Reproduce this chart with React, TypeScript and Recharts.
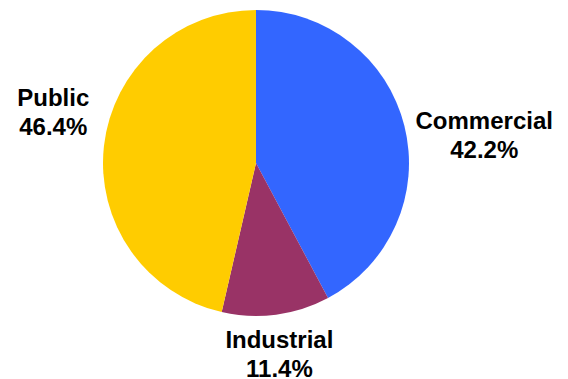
import React from 'react';
import { PieChart, Pie, Cell } from 'recharts';

const categories = ['Commercial', 'Industrial', 'Public'];
const shares = [42.2, 11.4, 46.4];
const COLORS = ['#3366FF', '#993366', '#FFCC00'];

// small nudges so the labels sit where the original put them
const LABEL_NUDGE = [
  { dx: 41, dy: 13 },
  { dx: -2, dy: -6 },
  { dx: -11, dy: -35 },
];

const RADIAN = Math.PI / 180;

const data = categories.map((name, i) => ({ name, value: shares[i] }));

const renderLabel = (props: any) => {
  const { cx, cy, midAngle, outerRadius, index, name, value } = props;
  const r = outerRadius + 40;
  const x = cx + r * Math.cos(-midAngle * RADIAN) + LABEL_NUDGE[index].dx;
  const y = cy + r * Math.sin(-midAngle * RADIAN) + LABEL_NUDGE[index].dy;
  return (
    <text
      x={x}
      y={y}
      textAnchor="middle"
      fill="#000"
      style={{ fontFamily: 'Liberation Sans, Arial, sans-serif', fontWeight: 'bold', fontSize: 24 }}
    >
      <tspan x={x} y={y}>{name}</tspan>
      <tspan x={x} y={y + 28.5}>{`${Number(value).toFixed(1)}%`}</tspan>
    </text>
  );
};

export default function App() {
  return (
    <div style={{ width: 568, height: 379, background: '#fff' }}>
      <style>{'body{margin:0}'}</style>
      <PieChart width={568} height={379} margin={{ top: 0, right: 0, bottom: 0, left: 0 }}>
        <Pie
          data={data}
          dataKey="value"
          nameKey="name"
          cx={256}
          cy={163}
          outerRadius={153}
          startAngle={90}
          endAngle={-270}
          stroke="none"
          label={renderLabel}
          labelLine={false}
          isAnimationActive={false}
        >
          {data.map((entry, index) => (
            <Cell key={`cell-${index}`} fill={COLORS[index % COLORS.length]} />
          ))}
        </Pie>
      </PieChart>
    </div>
  );
}
